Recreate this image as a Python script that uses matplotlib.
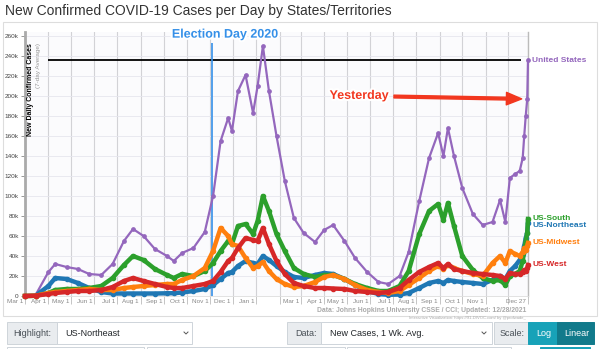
import pandas as pd
import matplotlib.pyplot as plt
import matplotlib.patheffects as pe
from matplotlib.patches import Rectangle
from matplotlib.lines import Line2D
from matplotlib import transforms

plt.rcParams['font.family'] = ['Liberation Sans', 'DejaVu Sans']

# data (7-day average, thousands of cases)
dates = ["2020-03-01", "2020-03-15", "2020-04-01", "2020-04-10", "2020-04-25", "2020-05-10", "2020-05-25", "2020-06-10", "2020-06-25", "2020-07-10",
         "2020-07-22", "2020-08-05", "2020-08-20", "2020-09-05", "2020-09-14", "2020-09-25", "2020-10-10", "2020-10-25", "2020-11-05", "2020-11-15",
         "2020-11-25", "2020-11-30", "2020-12-08", "2020-12-18", "2020-12-28", "2021-01-03", "2021-01-10", "2021-01-18", "2021-01-28", "2021-02-08",
         "2021-02-20", "2021-03-05", "2021-03-20", "2021-04-01", "2021-04-13", "2021-04-28", "2021-05-12", "2021-05-28", "2021-06-12", "2021-06-25",
         "2021-07-10", "2021-07-22", "2021-08-05", "2021-08-18", "2021-08-30", "2021-09-06", "2021-09-12", "2021-09-20", "2021-10-01", "2021-10-15",
         "2021-10-28", "2021-11-10", "2021-11-20", "2021-11-27", "2021-12-03", "2021-12-10", "2021-12-16", "2021-12-20", "2021-12-22", "2021-12-24",
         "2021-12-26", "2021-12-27"]

us = [0, 1, 24, 32, 29, 27, 22, 21, 32, 55,
      67, 60, 47, 40, 35, 43, 48, 64, 100, 155,
      178, 165, 205, 221, 183, 210, 250, 205, 160, 115,
      78, 63, 54, 66, 71, 55, 38, 24, 14, 12,
      20, 44, 95, 138, 163, 140, 168, 140, 108, 82,
      71, 74, 96, 74, 118, 122, 125, 138, 160, 180,
      197, 236]
south = [0, 0.2, 3, 6, 7, 7, 8, 10, 18, 31,
         40, 36, 27, 21, 18, 22, 20, 25, 33, 45,
         55, 52, 70, 72, 62, 75, 100, 85, 62, 45,
         28, 22, 19, 21, 21, 17, 12, 8, 5, 5,
         10, 25, 62, 85, 92, 76, 93, 70, 40, 26,
         18, 15, 16, 11, 20, 22, 25, 35, 45, 55,
         63, 77]
northeast = [0, 0.3, 10, 18, 17, 13, 8, 4, 2.5, 2.5,
             2.5, 2.5, 2.5, 2.7, 2.8, 3.5, 5, 7, 11, 17,
             23, 24, 30, 35, 33, 32, 40, 36, 30, 24,
             19, 18, 21, 23, 22, 17, 11, 5, 2, 1.2,
             1.5, 3, 8, 13, 15, 13, 16, 15, 14, 13,
             12, 16, 20, 17, 25, 30, 36, 42, 50, 58,
             63, 73]
midwest = [0, 0.2, 3, 4, 5, 6, 7, 6, 6, 8,
           9, 10, 11, 12, 12, 16, 20, 28, 45, 68,
           60, 52, 50, 38, 28, 30, 34, 25, 17, 12,
           9, 10, 14, 19, 21, 17, 11, 6, 4, 3,
           5, 11, 18, 25, 30, 27, 31, 28, 25, 22,
           20, 33, 40, 33, 45, 42, 40, 44, 48, 46,
           50, 53]
west = [0, 0.3, 2, 3, 4, 5, 5, 6, 9, 15,
        18, 15, 12, 9, 8, 8, 10, 12, 15, 24,
        35, 38, 48, 58, 56, 55, 68, 52, 35, 22,
        13, 10, 8, 8, 7.5, 7, 5, 4, 3, 4,
        8, 16, 24, 29, 33, 28, 32, 27, 25, 23,
        22, 21, 20, 17, 23, 22, 22, 24, 26, 25,
        28, 31]

names = ["United States", "US-Northeast", "US-South", "US-Midwest", "US-West"]
colors = ["#9467bd", "#1f77b4", "#2ca02c", "#ff7f0e", "#d62728"]
values = [us, northeast, south, midwest, west]

x = pd.to_datetime(dates)
start, end = x[0], x[-1]
election = pd.Timestamp("2020-11-03")

W, H = 600, 349
def fx(px): return px / W
def fy(py): return 1 - py / H

fig = plt.figure(figsize=(6, 3.49), dpi=100)
ax = fig.add_axes([fx(25), fy(296), (528 - 25) / W, (296 - 32) / H])
ax.set_facecolor("#fbfbfd")

# end labels: push apart labels that sit too close together
ends = sorted(((v[-1] * 1000, i) for i, v in enumerate(values)), reverse=True)
label_y = {}
prev = None
for val, i in ends:
    pos = val if prev is None else min(val, prev - 6500)
    label_y[i] = pos
    prev = pos

for i, (vals, c, name) in enumerate(zip(values, colors, names)):
    y = [v * 1000 for v in vals]
    if name == "United States":
        ax.plot(x, y, color=c, lw=1.6, marker="o", ms=2.4, clip_on=False, zorder=3)
    else:
        ax.plot(x, y, color=c, lw=3.2, marker="o", ms=3, clip_on=False, zorder=4)
    lab_tr = transforms.offset_copy(ax.transData, fig=fig, x=4, y=0, units="dots")
    ax.text(end, label_y[i], name, transform=lab_tr, color=c, fontsize=6, fontweight="bold",
            va="center", ha="left", clip_on=False)

# reference line at latest US value
ax.hlines(us[-1] * 1000, pd.Timestamp("2020-04-01"), pd.Timestamp("2021-12-18"), color="black", lw=1.3, zorder=2)

# election day marker
ax.vlines(election, 0, 253000, color="#3590e8", lw=1.2, zorder=2)
ax.text(0.292, 0.99, "Election Day 2020", transform=ax.transAxes, ha="left", va="center",
        fontsize=9, fontweight="bold", color="#3590e8", clip_on=False,
        path_effects=[pe.withStroke(linewidth=3, foreground="white")])

ax.annotate("Yesterday", xy=(x[-2], us[-2] * 1000), xytext=(0.664, 0.758), textcoords="axes fraction",
            ha="center", va="center", fontsize=9, fontweight="bold", color="#f2371f",
            path_effects=[pe.withStroke(linewidth=3, foreground="white")],
            arrowprops=dict(arrowstyle="simple,head_length=1.1,head_width=0.9,tail_width=0.2",
                            color="#f2371f", shrinkA=2, shrinkB=4, mutation_scale=10))

# axis label inside the plot
ax.text(0.0105, 0.958, "New Daily Confirmed Cases", transform=ax.transAxes, rotation=90,
        ha="center", va="top", fontsize=5, fontweight="bold", color="black")
ax.text(0.026, 0.958, "(7-day Average)", transform=ax.transAxes, rotation=90,
        ha="center", va="top", fontsize=4.6, color="#999999")

ax.set_xlim(start, end)
ax.set_ylim(0, 264000)

months = list(pd.date_range("2020-03-01", "2021-12-01", freq="MS")) + [end]
mlabels = []
for d in months:
    if d in (pd.Timestamp("2021-02-01"), pd.Timestamp("2021-12-01")):
        mlabels.append("")
    else:
        mlabels.append(f"{d:%b} {d.day} ")
ax.set_xticks(months)
ax.set_xticklabels(mlabels, ha="right")
ax.tick_params(axis="x", length=6, width=0.6, color="#bbbbbb", pad=-4, labelsize=4.6, labelcolor="#888888")

yt = list(range(0, 260001, 20000))
ax.set_yticks(yt)
ax.set_yticklabels(["0" if v == 0 else f"{v // 1000}k" for v in yt])
ax.tick_params(axis="y", length=3, width=0.6, color="#888888", pad=1.5, labelsize=4.6, labelcolor="#444444")

ax.grid(axis="x", color="#d2d2d6", lw=0.8)
ax.grid(axis="y", color="#e6e6ee", lw=0.6)
ax.set_axisbelow(True)
ax.spines["top"].set_visible(False)
ax.spines["left"].set_color("#aaaaaa")
ax.spines["left"].set_linewidth(2)
ax.spines["right"].set_color("#bbbbbb")
ax.spines["right"].set_linewidth(1)
ax.spines["bottom"].set_color("#dddddd")
ax.spines["bottom"].set_linewidth(0.6)

# title and source
fig.text(fx(5), fy(11), "New Confirmed COVID-19 Cases per Day by States/Territories",
         fontsize=10, color="#333333", va="center", ha="left")
fig.text(fx(526), fy(311), "Data: Johns Hopkins University CSSE / CCI; Updated: 12/28/2021",
         fontsize=4.9, fontweight="bold", color="#aaaaaa", ha="right", va="center")
fig.text(fx(526), fy(318), "Interactive Visualization: https://91-DIVOC.com/ by @profwade_",
         fontsize=3, color="#aaaaaa", ha="right", va="center")

# chart panel border
fig.add_artist(Rectangle((fx(3), fy(316)), 594 / W, 294 / H, transform=fig.transFigure,
                         fill=False, ec="#dddddd", lw=0.8))


def box(x0, y0, x1, y1, fc, ec="#ced4da"):
    fig.add_artist(Rectangle((fx(x0), fy(y1)), (x1 - x0) / W, (y1 - y0) / H,
                             transform=fig.transFigure, fc=fc, ec=ec, lw=0.7))


def label(px, py, s, color="#495057"):
    fig.text(fx(px), fy(py), s, fontsize=6.5, color=color, ha="left", va="center")


def chevron(cx, cy):
    fig.add_artist(Line2D([fx(cx - 2), fx(cx), fx(cx + 2)], [fy(cy - 1), fy(cy + 1), fy(cy - 1)],
                          transform=fig.transFigure, color="#555555", lw=0.7))


# controls below the chart
box(7, 322, 57, 344, "#e9ecef")
box(57, 322, 192, 344, "white")
label(13, 333, "Highlight:")
label(65, 333, "US-Northeast", "#212529")
chevron(186, 333)

box(287, 322, 321, 344, "#e9ecef")
box(321, 322, 492, 344, "white")
label(295, 333, "Data:")
label(330, 333, "New Cases, 1 Wk. Avg.", "#212529")
chevron(484, 333)

box(494, 322, 528, 344, "#e9ecef")
label(500, 333, "Scale:")
box(528, 322, 557, 344, "#17a2b8", "#17a2b8")
label(536, 333, "Log", "white")
box(557, 322, 594, 344, "#117a8b", "#117a8b")
label(564, 333, "Linear", "white")

box(7, 347, 144, 362, "white")
box(147, 347, 345, 362, "white")
box(347, 347, 511, 362, "white")
box(540, 347, 590, 362, "#17a2b8", "#17a2b8")

fig.savefig("out.png", dpi=100)
